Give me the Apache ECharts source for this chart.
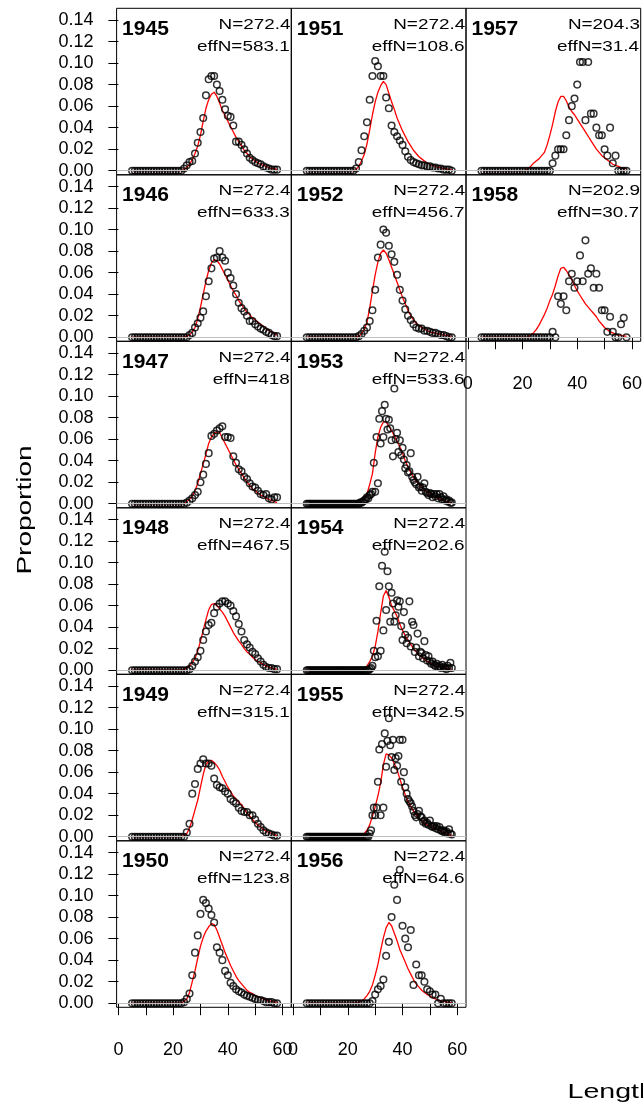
<!DOCTYPE html>
<html>
<head>
<meta charset="utf-8">
<script src="https://cdn.jsdelivr.net/npm/echarts@6/dist/echarts.min.js"></script>
<style>
  html, body { margin: 0; padding: 0; background: #fff; }
  #chart { width: 643px; height: 1108px; }
</style>
</head>
<body>
<div id="chart"></div>
<script>
// length bins (cm)
var lengths = [5,6,7,8,9,10,11,12,13,14,15,16,17,18,19,20,21,22,23,24,25,26,27,28,29,30,31,32,33,34,35,36,37,38,39,40,41,42,43,44,45,46,47,48,49,50,51,52,53,54,55,56,57,58];
// half-cm bins used by 1953-1955 observations
var lengthsHalf = [
  5,5.5,6,6.5,7,7.5,8,8.5,9,9.5,
  10,10.5,11,11.5,12,12.5,13,13.5,14,14.5,
  15,15.5,16,16.5,17,17.5,18,18.5,19,19.5,
  20,20.5,21,21.5,22,22.5,23,23.5,24,24.5,
  25,25.5,26,26.5,27,27.5,28,28.5,29,29.5,
  30,30.5,31,31.5,32,32.5,33,33.5,34,34.5,
  35,35.5,36,36.5,37,37.5,38,38.5,39,39.5,
  40,40.5,41,41.5,42,42.5,43,43.5,44,44.5,
  45,45.5,46,46.5,47,47.5,48,48.5,49,49.5,
  50,50.5,51,51.5,52,52.5,53,53.5,54,54.5,
  55,55.5,56,56.5,57,57.5,58];

var years = [1945,1946,1947,1948,1949,1950,1951,1952,1953,1954,1955,1956,1957,1958];
var sampleN = ['272.4','272.4','272.4','272.4','272.4','272.4','272.4','272.4','272.4','272.4','272.4','272.4','204.3','202.9'];
var effN = ['583.1','633.3','418','467.5','315.1','123.8','108.6','456.7','533.6','202.6','342.5','64.6','31.4','30.7'];
var halfBinYears = [1953,1954,1955];

var xTicks = [0,10,20,30,40,50,60];
var xTickLabels = [0,20,40,60];
var yTicks = [0,0.02,0.04,0.06,0.08,0.10,0.12,0.14];

// observed proportions
var obs1945 = [0,0,0,0,0,0,0,0,0,0, 0,0,0,0,0,0,0,0,0,
  0.002,0.005,0.008,0.009,0.016,0.026,0.036,0.049,0.070,0.085,0.088,0.088,0.080,0.074,0.066,0.057,0.051,0.050,0.042,0.027,0.027,0.024,0.020,0.016,0.012,0.010,0.008,0.007,0.006,0.004,0.003,0.002,0.001,0.001,0.001];
var obs1946 = [0,0,0,0,0,0,0,0,0,0, 0,0,0,0,0,0,0,0,0,0, 0,
  0.002,0.004,0.009,0.013,0.018,0.024,0.038,0.052,0.064,0.073,0.074,0.080,0.074,0.071,0.060,0.055,0.048,0.040,0.032,0.027,0.024,0.020,0.015,0.015,0.012,0.010,0.008,0.007,0.005,0.004,0.002,0.001,0.001];
var obs1947 = [0,0,0,0,0,0,0,0,0,0, 0,0,0,0,0,0,0,0,0,0,
  0.001,0.003,0.005,0.008,0.011,0.020,0.027,0.037,0.047,0.063,0.065,0.068,0.070,0.072,0.062,0.062,0.061,0.044,0.038,0.032,0.030,0.025,0.023,0.019,0.016,0.015,0.012,0.009,0.008,0.009,0.005,0.004,0.006,0.006];
var obs1948 = [0,0,0,0,0,0,0,0,0,0, 0,0,0,0,0,0,0,0,0,0, 0,
  0.001,0.004,0.008,0.012,0.018,0.028,0.036,0.042,0.044,0.053,0.059,0.062,0.064,0.064,0.062,0.060,0.055,0.050,0.043,0.036,0.028,0.024,0.021,0.017,0.015,0.011,0.008,0.005,0.003,0.002,0.002,0.001,0.001];
var obs1949 = [0,0,0,0,0,0,0,0,0,0, 0,0,0,0,0,0,0,0,0,0,
  0.004,0.012,0.040,0.049,0.063,0.068,0.072,0.068,0.068,0.066,0.054,0.048,0.046,0.045,0.042,0.040,0.035,0.033,0.031,0.027,0.024,0.023,0.023,0.020,0.020,0.016,0.012,0.009,0.006,0.004,0.003,0.002,0.001,0.001];
var obs1950 = [0,0,0,0,0,0,0,0,0,0, 0,0,0,0,0,0,0,0,0,
  0.001,0.004,0.009,0.026,0.047,0.063,0.083,0.096,0.093,0.088,0.082,0.075,0.052,0.047,0.040,0.030,0.026,0.019,0.016,0.013,0.011,0.010,0.008,0.007,0.006,0.005,0.004,0.003,0.003,0.002,0.001,0.001,0.001,0,0];
var obs1951 = [0,0,0,0,0,0,0,0,0,0, 0,0,0,0,0,0,0,0,
  0.002,0.008,0.019,0.032,0.045,0.066,0.088,0.102,0.097,0.088,0.088,0.068,0.058,0.042,0.036,0.032,0.028,0.024,0.018,0.013,0.010,0.008,0.007,0.006,0.005,0.005,0.004,0.004,0.003,0.003,0.002,0.002,0.001,0.001,0.001,0];
var obs1952 = [0,0,0,0,0,0,0,0,0,0, 0,0,0,0,0,0,0,0,0,
  0.001,0.003,0.006,0.009,0.015,0.025,0.044,0.074,0.086,0.100,0.097,0.085,0.077,0.070,0.058,0.044,0.034,0.026,0.020,0.016,0.012,0.009,0.008,0.008,0.006,0.006,0.005,0.004,0.004,0.003,0.002,0.002,0.001,0,0];
var obs1953 = [0,0,0,0,0,0,0,0,0,0, 0,0,0,0,0,0,0,0,0,0, 0,0,0,0,0,0,0,0,0,0, 0,0,0,0,0,0,0,0,0,
  0.001,0.001,0.002,0.003,0.004,0.006,0.005,0.008,0.009,0.011,
  0.038,0.011,0.062,0.019,0.079,0.056,0.086,0.062,0.092,0.079,
  0.069,0.078,0.070,0.059,0.044,0.107,0.060,0.066,0.048,0.059,
  0.045,0.052,0.041,0.033,0.036,0.029,0.030,0.047,0.025,0.022,
  0.020,0.018,0.025,0.015,0.016,0.012,0.015,0.019,0.011,0.010,
  0.008,0.010,0.009,0.006,0.009,0.007,0.009,0.005,0.009,0.006,
  0.004,0.007,0.003,0.004,0.002,0.003,0.001,0.001];
var obs1954 = [0,0,0,0,0,0,0,0,0,0, 0,0,0,0,0,0,0,0,0,0, 0,0,0,0,0,0,0,0,0,0, 0,0,0,0,0,0,0,0,0,0, 0,0,0,0,0,0,
  0.001,0.002,0.004,0.018,0.012,0.046,0.013,0.078,0.018,0.097,
  0.037,0.110,0.056,0.092,0.078,0.045,0.072,0.062,0.045,0.051,
  0.065,0.059,0.064,0.041,0.028,0.054,0.033,0.025,0.030,0.064,
  0.022,0.045,0.042,0.017,0.021,0.034,0.013,0.017,0.016,0.011,
  0.027,0.014,0.009,0.013,0.008,0.006,0.008,0.005,0.004,0.006,
  0.003,0.004,0.002,0.005,0.003,0.002,0.001,0.004,0.002,0.007,
  0.002];
var obs1955 = [0,0,0,0,0,0,0,0,0,0, 0,0,0,0,0,0,0,0,0,0, 0,0,0,0,0,0,0,0,0,0, 0,0,0,0,0,0,0,0,0,0, 0,0,0,0,0,0,
  0.003,0.006,0.020,0.027,0.020,0.027,0.051,0.081,0.020,0.086,
  0.027,0.096,0.065,0.089,0.110,0.085,0.074,0.090,0.062,0.073,
  0.066,0.075,0.090,0.051,0.090,0.060,0.046,0.040,0.035,0.033,
  0.031,0.028,0.024,0.020,0.018,0.021,0.024,0.019,0.018,0.014,
  0.015,0.012,0.013,0.011,0.015,0.010,0.009,0.010,0.008,0.010,
  0.007,0.009,0.006,0.005,0.006,0.004,0.005,0.003,0.007,0.003,
  0.002];
var obs1956 = [0,0,0,0,0,0,0,0,0,0, 0,0,0,0,0,0,0,0,0,0, 0,0,0,0,
  0.002,0.008,0.013,0.016,0.022,0.044,0.057,0.080,0.110,0.096,0.124,0.072,0.060,0.052,0.068,0.017,0.036,0.026,0.026,0.020,0.013,0.011,0.008,0.008,0,0.004,0,0,0,0];
var obs1957 = [0,0,0,0,0,0,0,0,0,0, 0,0,0,0,0,0,0,0,0,0, 0,0,0,0,0,0,
  0.007,0.014,0.020,0.020,0.020,0.033,0.047,0.060,0.067,0.080,0.101,0.101,0.047,0.101,0.053,0.053,0.040,0.033,0.033,0.020,0.014,0.040,0.007,0.014,0,0,0,0];
var obs1958 = [0,0,0,0,0,0,0,0,0,0, 0,0,0,0,0,0,0,0,0,0, 0,0,0,0,0,0,
  0.005,0,0.038,0.031,0.038,0.025,0.052,0.059,0.046,0.052,0.076,0.052,0.090,0.059,0.064,0.046,0.059,0.046,0.025,0.025,0.005,0.019,0.005,0,0,0.012,0.018,0];

// expected (model) proportions
var exp1945 = [0,0,0,0,0,0,0,0,0,0, 0,0,0,0,0,0,0,0,0,
  0.001,0.003,0.006,0.010,0.016,0.023,0.033,0.046,0.058,0.066,0.071,0.073,0.069,0.063,0.056,0.051,0.046,0.041,0.036,0.031,0.027,0.023,0.019,0.016,0.013,0.011,0.009,0.007,0.006,0.005,0.004,0.003,0.002,0.002,0.001];
var exp1946 = [0,0,0,0,0,0,0,0,0,0, 0,0,0,0,0,0,0,0,0,0,
  0.001,0.002,0.005,0.009,0.017,0.028,0.040,0.052,0.062,0.069,0.072,0.071,0.068,0.063,0.058,0.053,0.048,0.043,0.039,0.034,0.030,0.027,0.023,0.021,0.018,0.016,0.014,0.012,0.010,0.008,0.006,0.005,0.003,0.002];
var exp1947 = [0,0,0,0,0,0,0,0,0,0, 0,0,0,0,0,0,0,0,0,0,
  0.002,0.004,0.007,0.012,0.019,0.028,0.037,0.046,0.056,0.062,0.065,0.067,0.066,0.061,0.056,0.051,0.046,0.041,0.036,0.032,0.028,0.024,0.020,0.017,0.014,0.012,0.010,0.008,0.007,0.005,0.004,0.003,0.002,0.001];
var exp1948 = [0,0,0,0,0,0,0,0,0,0, 0,0,0,0,0,0,0,0,0,
  0.001,0.002,0.004,0.007,0.011,0.018,0.027,0.037,0.047,0.056,0.061,0.062,0.060,0.057,0.054,0.050,0.045,0.040,0.035,0.031,0.027,0.024,0.020,0.017,0.015,0.012,0.010,0.008,0.007,0.005,0.004,0.003,0.002,0.001,0.001];
var exp1949 = [0,0,0,0,0,0,0,0,0,0, 0,0,0,0,0,0,0,0,0,
  0.001,0.003,0.008,0.016,0.025,0.034,0.046,0.058,0.067,0.070,0.071,0.069,0.066,0.062,0.056,0.051,0.046,0.042,0.038,0.035,0.032,0.030,0.026,0.022,0.019,0.016,0.013,0.011,0.009,0.007,0.005,0.004,0.003,0.002,0.001];
var exp1950 = [0,0,0,0,0,0,0,0,0,0, 0,0,0,0,0,0,0,0,0,
  0.002,0.004,0.010,0.020,0.030,0.042,0.053,0.061,0.067,0.071,0.074,0.073,0.068,0.061,0.054,0.047,0.041,0.035,0.030,0.025,0.021,0.018,0.015,0.012,0.010,0.009,0.007,0.006,0.005,0.004,0.003,0.002,0.002,0.001,0.001];
var exp1951 = [0,0,0,0,0,0,0,0,0,0, 0,0,0,0,0,0,0,0,
  0.001,0.004,0.009,0.015,0.025,0.038,0.052,0.064,0.073,0.079,0.083,0.080,0.072,0.064,0.057,0.049,0.043,0.037,0.032,0.027,0.023,0.019,0.016,0.013,0.011,0.009,0.007,0.006,0.005,0.004,0.003,0.003,0.002,0.002,0.001,0.001];
var exp1952 = [0,0,0,0,0,0,0,0,0,0, 0,0,0,0,0,0,0,0,0,
  0.001,0.003,0.007,0.014,0.027,0.043,0.058,0.070,0.078,0.081,0.078,0.072,0.065,0.058,0.051,0.044,0.037,0.031,0.025,0.020,0.016,0.013,0.011,0.009,0.008,0.006,0.005,0.004,0.004,0.003,0.003,0.002,0.002,0.001,0.001];
var exp1953 = [0,0,0,0,0,0,0,0,0,0, 0,0,0,0,0,0,0,0,0,
  0.001,0.002,0.005,0.009,0.018,0.028,0.047,0.062,0.071,0.076,0.076,0.072,0.068,0.063,0.058,0.053,0.047,0.040,0.034,0.029,0.025,0.021,0.018,0.015,0.013,0.011,0.009,0.007,0.006,0.005,0.004,0.003,0.002,0.001,0.001];
var exp1954 = [0,0,0,0,0,0,0,0,0,0, 0,0,0,0,0,0,0,0,0,0,
  0.001,0.002,0.004,0.008,0.013,0.022,0.036,0.053,0.069,0.074,0.068,0.060,0.055,0.050,0.043,0.037,0.032,0.028,0.024,0.020,0.017,0.014,0.012,0.010,0.008,0.007,0.005,0.004,0.004,0.003,0.002,0.002,0.001,0.001];
var exp1955 = [0,0,0,0,0,0,0,0,0,0, 0,0,0,0,0,0,0,0,0,0,
  0.001,0.003,0.006,0.011,0.019,0.028,0.038,0.050,0.067,0.077,0.076,0.073,0.068,0.062,0.054,0.046,0.039,0.033,0.028,0.024,0.020,0.017,0.015,0.013,0.011,0.010,0.009,0.008,0.006,0.005,0.004,0.003,0.002,0.001];
var exp1956 = [0,0,0,0,0,0,0,0,0,0, 0,0,0,0,0,0,0,0,0,
  0.001,0.002,0.004,0.007,0.011,0.017,0.026,0.036,0.049,0.061,0.070,0.075,0.072,0.065,0.058,0.050,0.044,0.038,0.032,0.027,0.022,0.018,0.015,0.012,0.010,0.008,0.007,0.005,0.004,0.003,0.002,0.002,0.001,0.001,0];
var exp1957 = [0,0,0,0,0,0,0,0,0,0, 0,0,0,0,0,0,0,
  0.002,0.004,0.007,0.009,0.011,0.014,0.017,0.024,0.033,0.043,0.055,0.064,0.069,0.069,0.065,0.059,0.055,0.052,0.048,0.044,0.040,0.036,0.032,0.028,0.024,0.020,0.017,0.014,0.012,0.010,0.008,0.006,0.005,0.004,0.003,0.002,0.002];
var exp1958 = [0,0,0,0,0,0,0,0,0,0, 0,0,0,0,0,0,0,0,
  0.002,0.004,0.007,0.011,0.016,0.021,0.027,0.034,0.040,0.048,0.057,0.064,0.065,0.062,0.058,0.054,0.048,0.043,0.039,0.035,0.031,0.028,0.025,0.022,0.019,0.015,0.012,0.009,0.007,0.005,0.004,0.003,0.002,0.002,0.001,0.001];

var observed = [obs1945,obs1946,obs1947,obs1948,obs1949,obs1950,obs1951,obs1952,obs1953,obs1954,obs1955,obs1956,obs1957,obs1958];
var expected = [exp1945,exp1946,exp1947,exp1948,exp1949,exp1950,exp1951,exp1952,exp1953,exp1954,exp1955,exp1956,exp1957,exp1958];

// panel layout (pixels)
var PANEL_LEFT = 116.6, PANEL_TOP = 8.3, PANEL_W = 174.7, PANEL_H = 166.5;
var FONT = '"Liberation Sans", Arial, Helvetica, sans-serif';

var grids = [], xAxes = [], yAxes = [], series = [], texts = [];

years.forEach(function (yr, i) {
  var col = i < 6 ? 0 : (i < 12 ? 1 : 2);
  var row = col < 2 ? i % 6 : i - 12;
  var left = PANEL_LEFT + col * PANEL_W;
  var top = PANEL_TOP + row * PANEL_H;
  var bottomOfCol = (col < 2 && row === 5) || (col === 2 && row === 1);

  grids.push({
    left: left, top: top, width: PANEL_W, height: PANEL_H,
    show: true, borderColor: '#000', borderWidth: 1,
    backgroundColor: 'rgba(0,0,0,0)', outerBoundsMode: 'none'
  });
  xAxes.push({
    gridIndex: i, type: 'value', min: -0.66, max: 63.2,
    axisLine: { show: false }, splitLine: { show: false },
    axisTick: { show: bottomOfCol, length: 12, customValues: xTicks, lineStyle: { color: '#000', width: 1 } },
    axisLabel: { show: bottomOfCol, customValues: xTickLabels, margin: 34, fontSize: 18, color: '#000', fontFamily: FONT }
  });
  yAxes.push({
    gridIndex: i, type: 'value', min: -0.0038, max: 0.1509,
    axisLine: { show: false }, splitLine: { show: false },
    axisTick: { show: col === 0, length: 10, customValues: yTicks, lineStyle: { color: '#000', width: 1 } },
    axisLabel: {
      show: col === 0, customValues: yTicks, margin: 23, fontSize: 18, color: '#000',
      fontFamily: FONT, padding: [5, 0, 0, 0],
      formatter: function (v) { return v.toFixed(2); }
    }
  });

  var obsX = halfBinYears.indexOf(yr) >= 0 ? lengthsHalf : lengths;
  series.push({
    type: 'line', xAxisIndex: i, yAxisIndex: i, z: 2,
    data: lengths.map(function (L, k) { return [L, expected[i][k]]; }),
    showSymbol: false, symbol: 'none',
    lineStyle: { color: '#ff0000', width: 1.3 },
    markLine: {
      silent: true, symbol: 'none', label: { show: false },
      lineStyle: { color: '#bebebe', type: 'solid', width: 1 },
      data: [{ yAxis: 0 }]
    }
  });
  series.push({
    type: 'scatter', xAxisIndex: i, yAxisIndex: i, z: 3,
    data: obsX.map(function (L, k) { return [L, observed[i][k]]; }),
    symbol: 'circle', symbolSize: 6.6,
    itemStyle: { color: 'rgba(0,0,0,0)', borderColor: '#000', borderWidth: 1.5 }
  });

  // panel annotations
  var right = left + PANEL_W;
  texts.push({
    type: 'text', x: left + 5.5, y: top + 20.5, z: 10,
    style: { text: String(yr), font: 'bold 21px ' + FONT, fill: '#000', align: 'left', verticalAlign: 'middle' }
  });
  texts.push({
    type: 'text', x: right - 0.8, y: top + 16.4, scaleX: 1.35, z: 10,
    style: { text: 'N=' + sampleN[i], font: '14px ' + FONT, fill: '#000', align: 'right', verticalAlign: 'middle' }
  });
  texts.push({
    type: 'text', x: right - 1.6, y: top + 38.8, scaleX: 1.35, z: 10,
    style: { text: 'effN=' + effN[i], font: '14px ' + FONT, fill: '#000', align: 'right', verticalAlign: 'middle' }
  });
});

texts.push({
  type: 'text', x: 25, y: 510, rotation: Math.PI / 2, scaleX: 1.4,
  style: { text: 'Proportion', font: '20px ' + FONT, fill: '#000', align: 'center', verticalAlign: 'middle' }
});
texts.push({
  type: 'text', x: 567.5, y: 1092, scaleX: 1.36,
  style: { text: 'Length', font: '21px ' + FONT, fill: '#000', align: 'left', verticalAlign: 'middle' }
});

var chart = echarts.init(document.getElementById('chart'), null, { renderer: 'canvas' });
chart.setOption({
  animation: false,
  backgroundColor: '#fff',
  grid: grids,
  xAxis: xAxes,
  yAxis: yAxes,
  series: series,
  graphic: { elements: texts }
});
</script>
</body>
</html>
